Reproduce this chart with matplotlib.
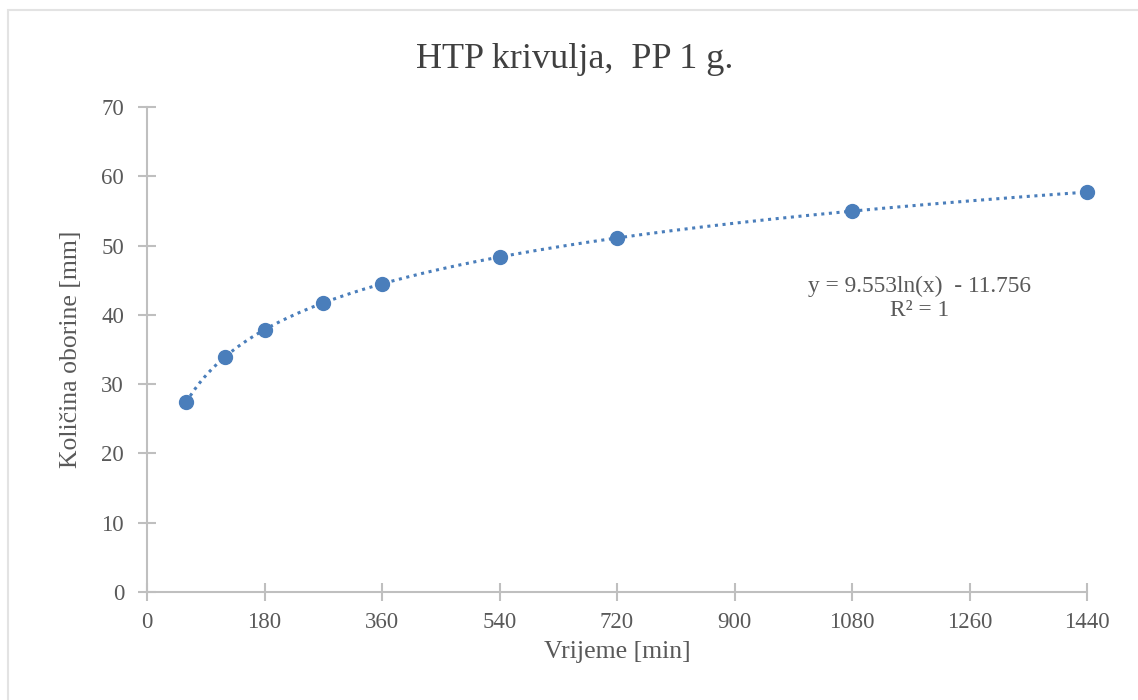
import numpy as np
import matplotlib.pyplot as plt
from matplotlib.patches import Rectangle

plt.rcParams['font.family'] = ['Liberation Serif', 'DejaVu Serif']

# trajanje oborine [min] i kolicina oborine [mm]
vrijeme = [60, 120, 180, 270, 360, 540, 720, 1080, 1440]
oborina = [27.36, 33.98, 37.85, 41.73, 44.47, 48.35, 51.10, 54.97, 57.72]
x_ticks = [0, 180, 360, 540, 720, 900, 1080, 1260, 1440]
y_ticks = [0, 10, 20, 30, 40, 50, 60, 70]

blue = '#4a7ebb'
grey = '#bfbfbf'
txt = '#595959'

fig = plt.figure(figsize=(11.38, 7.0), dpi=100)
# okvir grafikona
fig.patches.append(Rectangle((8/1138, -0.1), 1.2, 1 - 10/700 + 0.1,
                             transform=fig.transFigure, fill=False,
                             edgecolor='#e3e3e3', linewidth=1.5))
ax = fig.add_axes([147/1138, 108/700, 940/1138, 485/700])

# logaritamska linija trenda
a, b = np.polyfit(np.log(vrijeme), oborina, 1)
xt = np.linspace(vrijeme[0], vrijeme[-1], 400)
ax.plot(xt, a*np.log(xt) + b, color=blue, linestyle=(0, (1, 1.5)),
        linewidth=2.2, zorder=2)
ax.plot(vrijeme, oborina, 'o', color=blue, markersize=10, zorder=3,
        clip_on=False)

ax.set_xlim(0, 1440)
ax.set_ylim(0, 70)
ax.set_xticks(x_ticks)
ax.set_yticks(y_ticks)
for s in ['top', 'right']:
    ax.spines[s].set_visible(False)
for s in ['left', 'bottom']:
    ax.spines[s].set_color(grey)
    ax.spines[s].set_linewidth(1.5)
ax.tick_params(direction='inout', length=13, width=1.5, color=grey,
               labelcolor=txt, labelsize=16.5)
ax.tick_params(axis='y', pad=10)
ax.tick_params(axis='x', pad=8)

fig.text(575/1138, 1 - 60/700, 'HTP krivulja,  PP 1 g.', ha='center',
         va='center', fontsize=26, color='#404040')
ax.set_xlabel('Vrijeme [min]', fontsize=18.5, color=txt, labelpad=6)
ax.set_ylabel('Količina oborine [mm]', fontsize=18.5, color=txt, labelpad=14)

ax.text(1184, 42.4, 'y = 9.553ln(x)  - 11.756\nR² = 1', ha='center',
        va='center', fontsize=16.8, color=txt, linespacing=1.15)

plt.savefig('out.png', dpi=100)
